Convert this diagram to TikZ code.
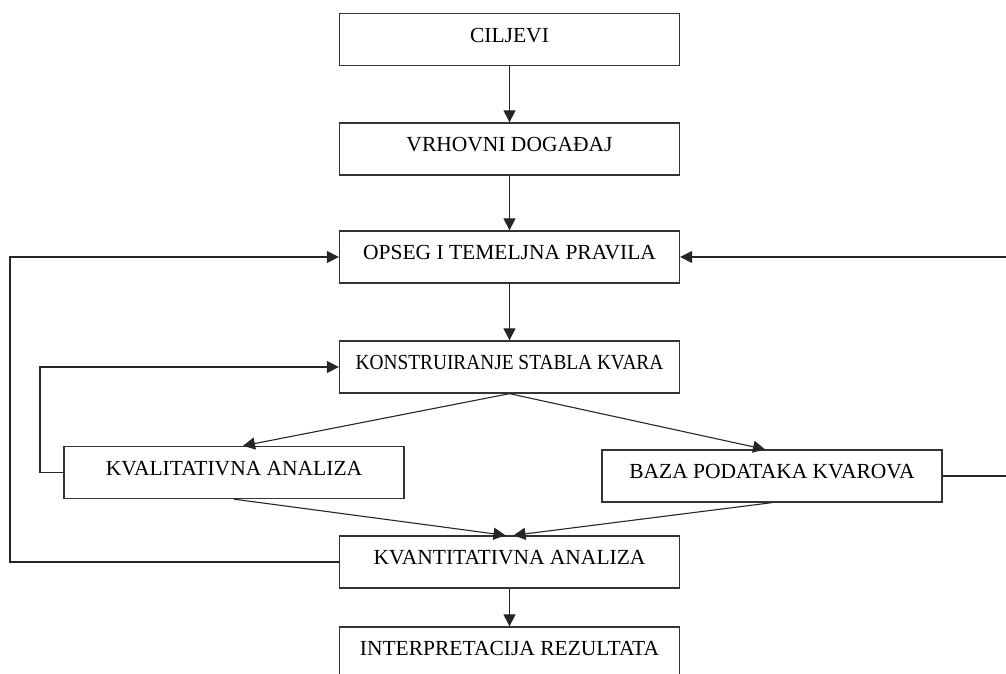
\documentclass[tikz,border=0pt]{standalone}
\usepackage{fontspec}
\usepackage{graphicx}
\setmainfont{Liberation Serif}
\usetikzlibrary{arrows.meta,calc}
\begin{document}
\begin{tikzpicture}[x=1pt,y=-1pt,
  box/.style={draw=black!80, line width=1.3pt, minimum width=340pt, minimum height=52pt,
    inner sep=0pt, text height=15pt, text depth=9.8pt, font=\fontsize{21.5}{24}\selectfont},
  conn/.style={draw=black!85, line width=1.1pt, -{Triangle[length=12pt,width=12pt]}}]
\useasboundingbox (0,0) rectangle (1006,674);
\clip (0,0) rectangle (1006,674);
\node[box] (cilj) at (509.5,39.5) {CILJEVI};
\node[box] (vrh) at (509.5,149) {VRHOVNI DOGAĐAJ};
\node[box] (ops) at (509.5,257) {OPSEG I TEMELJNA PRAVILA};
\node[box] (kon) at (509.5,367) {\scalebox{0.9}[1]{KONSTRUIRANJE STABLA KVARA}};
\node[box] (kval) at (234,472.5) {KVALITATIVNA ANALIZA};
\node[box] (baza) at (772,476) {BAZA PODATAKA KVAROVA};
\node[box] (kvan) at (509.5,562) {KVANTITATIVNA ANALIZA};
\node[box] (int) at (509.5,653) {INTERPRETACIJA REZULTATA};
\coordinate (lx) at (10,0);
\coordinate (kx) at (40,0);
\coordinate (rx) at (1012,0);
\draw[conn] (cilj.south) -- (vrh.north);
\draw[conn] (vrh.south) -- (ops.north);
\draw[conn] (ops.south) -- (kon.north);
\draw[conn] (kon.south) -- ($(kval.north)+(9,0)$);
\draw[conn] (kon.south) -- ($(baza.north)+(-7,0)$);
\draw[conn] (kval.south) -- ($(kvan.north)+(-4,0)$);
\draw[conn] (baza.south) -- ($(kvan.north)+(4,0)$);
\draw[conn] (kvan.south) -- (int.north);
\draw[conn] (kvan.west) -- (kvan.west -| lx) -- (ops.west -| lx) -- (ops.west);
\draw[conn] (kval.west) -- (kval.west -| kx) -- (kon.west -| kx) -- (kon.west);
\draw[conn] (baza.east) -- (baza.east -| rx) -- (ops.east -| rx) -- (ops.east);
\end{tikzpicture}
\end{document}
